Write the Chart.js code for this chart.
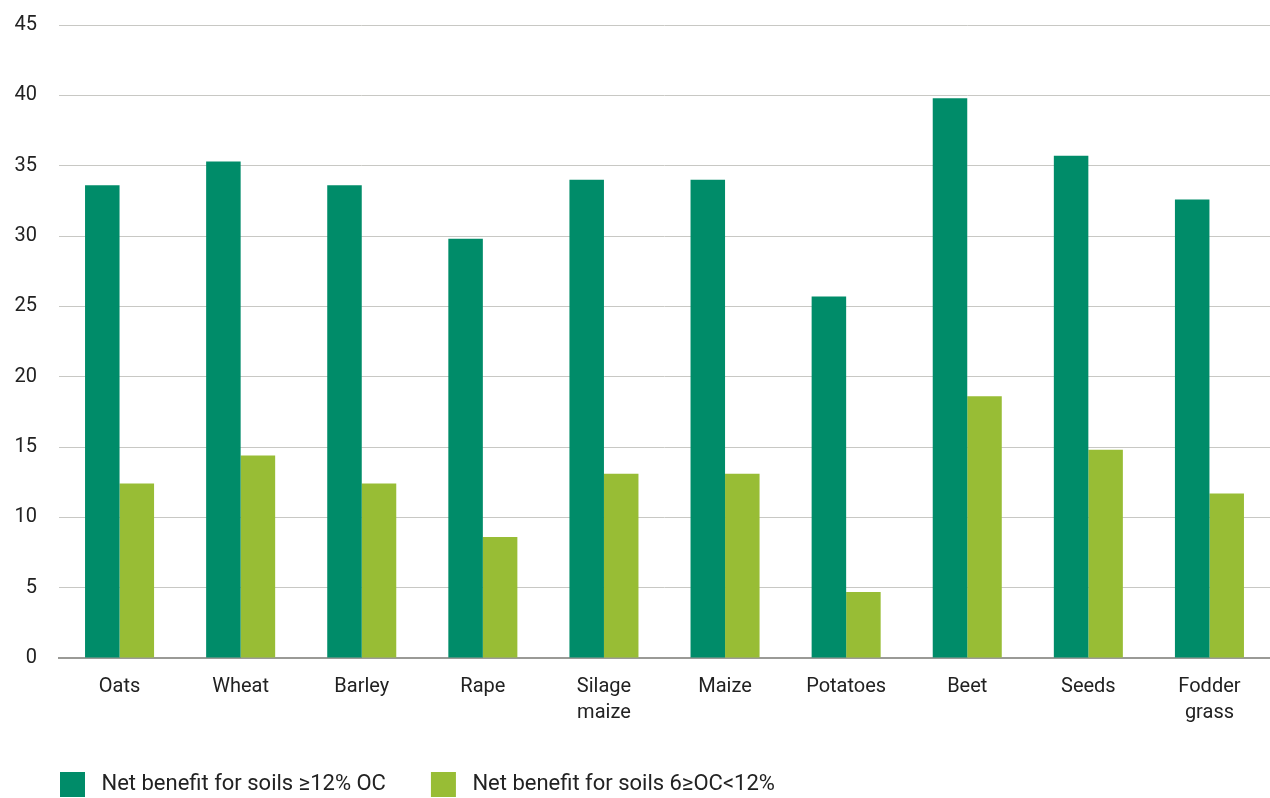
<!DOCTYPE html>
<html>
<head>
<meta charset="utf-8">
<script src="https://cdn.jsdelivr.net/npm/chart.js@4"></script>
<style>
  html, body { margin: 0; padding: 0; background: #fff; }
  #wrap { width: 1270px; height: 798px; position: relative; }
</style>
</head>
<body>
<div id="wrap"><canvas id="chart"></canvas></div>
<script>
const crops = ['Oats', 'Wheat', 'Barley', 'Rape', ['Silage', 'maize'], 'Maize', 'Potatoes', 'Beet', 'Seeds', ['Fodder', 'grass']];
const highOC = [33.6, 35.3, 33.6, 29.8, 34.0, 34.0, 25.7, 39.8, 35.7, 32.6];
const midOC = [12.4, 14.4, 12.4, 8.6, 13.1, 13.1, 4.7, 18.6, 14.8, 11.7];
const seriesNames = ['Net benefit for soils \u226512% OC', 'Net benefit for soils 6\u2265OC<12%'];

const FONT = "Roboto, 'DejaVu Sans', sans-serif";
Chart.defaults.font.family = FONT;
Chart.defaults.color = '#222';

const LEGEND_PAD = 45;

// push the legend down to the bottom edge, like the original
const legendSpacing = {
    id: 'legendSpacing',
    beforeInit(chart) {
        const fit = chart.legend.fit;
        chart.legend.fit = function () {
            fit.bind(chart.legend)();
            this.height = LEGEND_PAD + 26;
        };
    }
};

new Chart(document.getElementById('chart'), {
    type: 'bar',
    data: {
        labels: crops,
        datasets: [{
            label: seriesNames[0],
            data: highOC,
            backgroundColor: '#008c69',
            barPercentage: 1,
            categoryPercentage: 0.57
        }, {
            label: seriesNames[1],
            data: midOC,
            backgroundColor: '#98bd35',
            barPercentage: 1,
            categoryPercentage: 0.57
        }]
    },
    options: {
        responsive: true,
        maintainAspectRatio: false,
        animation: false,
        layout: { padding: { top: 25, left: 15, right: 0, bottom: 0 } },
        plugins: {
            tooltip: { enabled: false },
            legend: {
                position: 'bottom',
                align: 'start',
                labels: {
                    boxWidth: 25,
                    boxHeight: 25,
                    padding: LEGEND_PAD,
                    color: '#222',
                    font: { size: 22 },
                    generateLabels(chart) {
                        const items = Chart.defaults.plugins.legend.labels.generateLabels(chart);
                        items.forEach(it => { it.text = ' ' + it.text; });
                        return items;
                    }
                }
            }
        },
        scales: {
            x: {
                grid: { display: false, drawTicks: false },
                border: { color: '#9a9a96', width: 2 },
                ticks: { padding: 16, color: '#222', font: { size: 20, lineHeight: 1.3 }, maxRotation: 0 },
                afterFit(s) { s.height = 69; s.paddingLeft = 0; s.paddingRight = 0; }
            },
            y: {
                min: 0,
                max: 45,
                grid: { color: '#c8c8c4', lineWidth: 1, drawTicks: false },
                border: { display: false },
                ticks: { stepSize: 5, padding: 22, color: '#222', font: { size: 20 } },
                afterFit(s) { s.width = 44; s.paddingTop = 0; s.paddingBottom = 0; }
            }
        }
    },
    plugins: [legendSpacing]
});
</script>
</body>
</html>
